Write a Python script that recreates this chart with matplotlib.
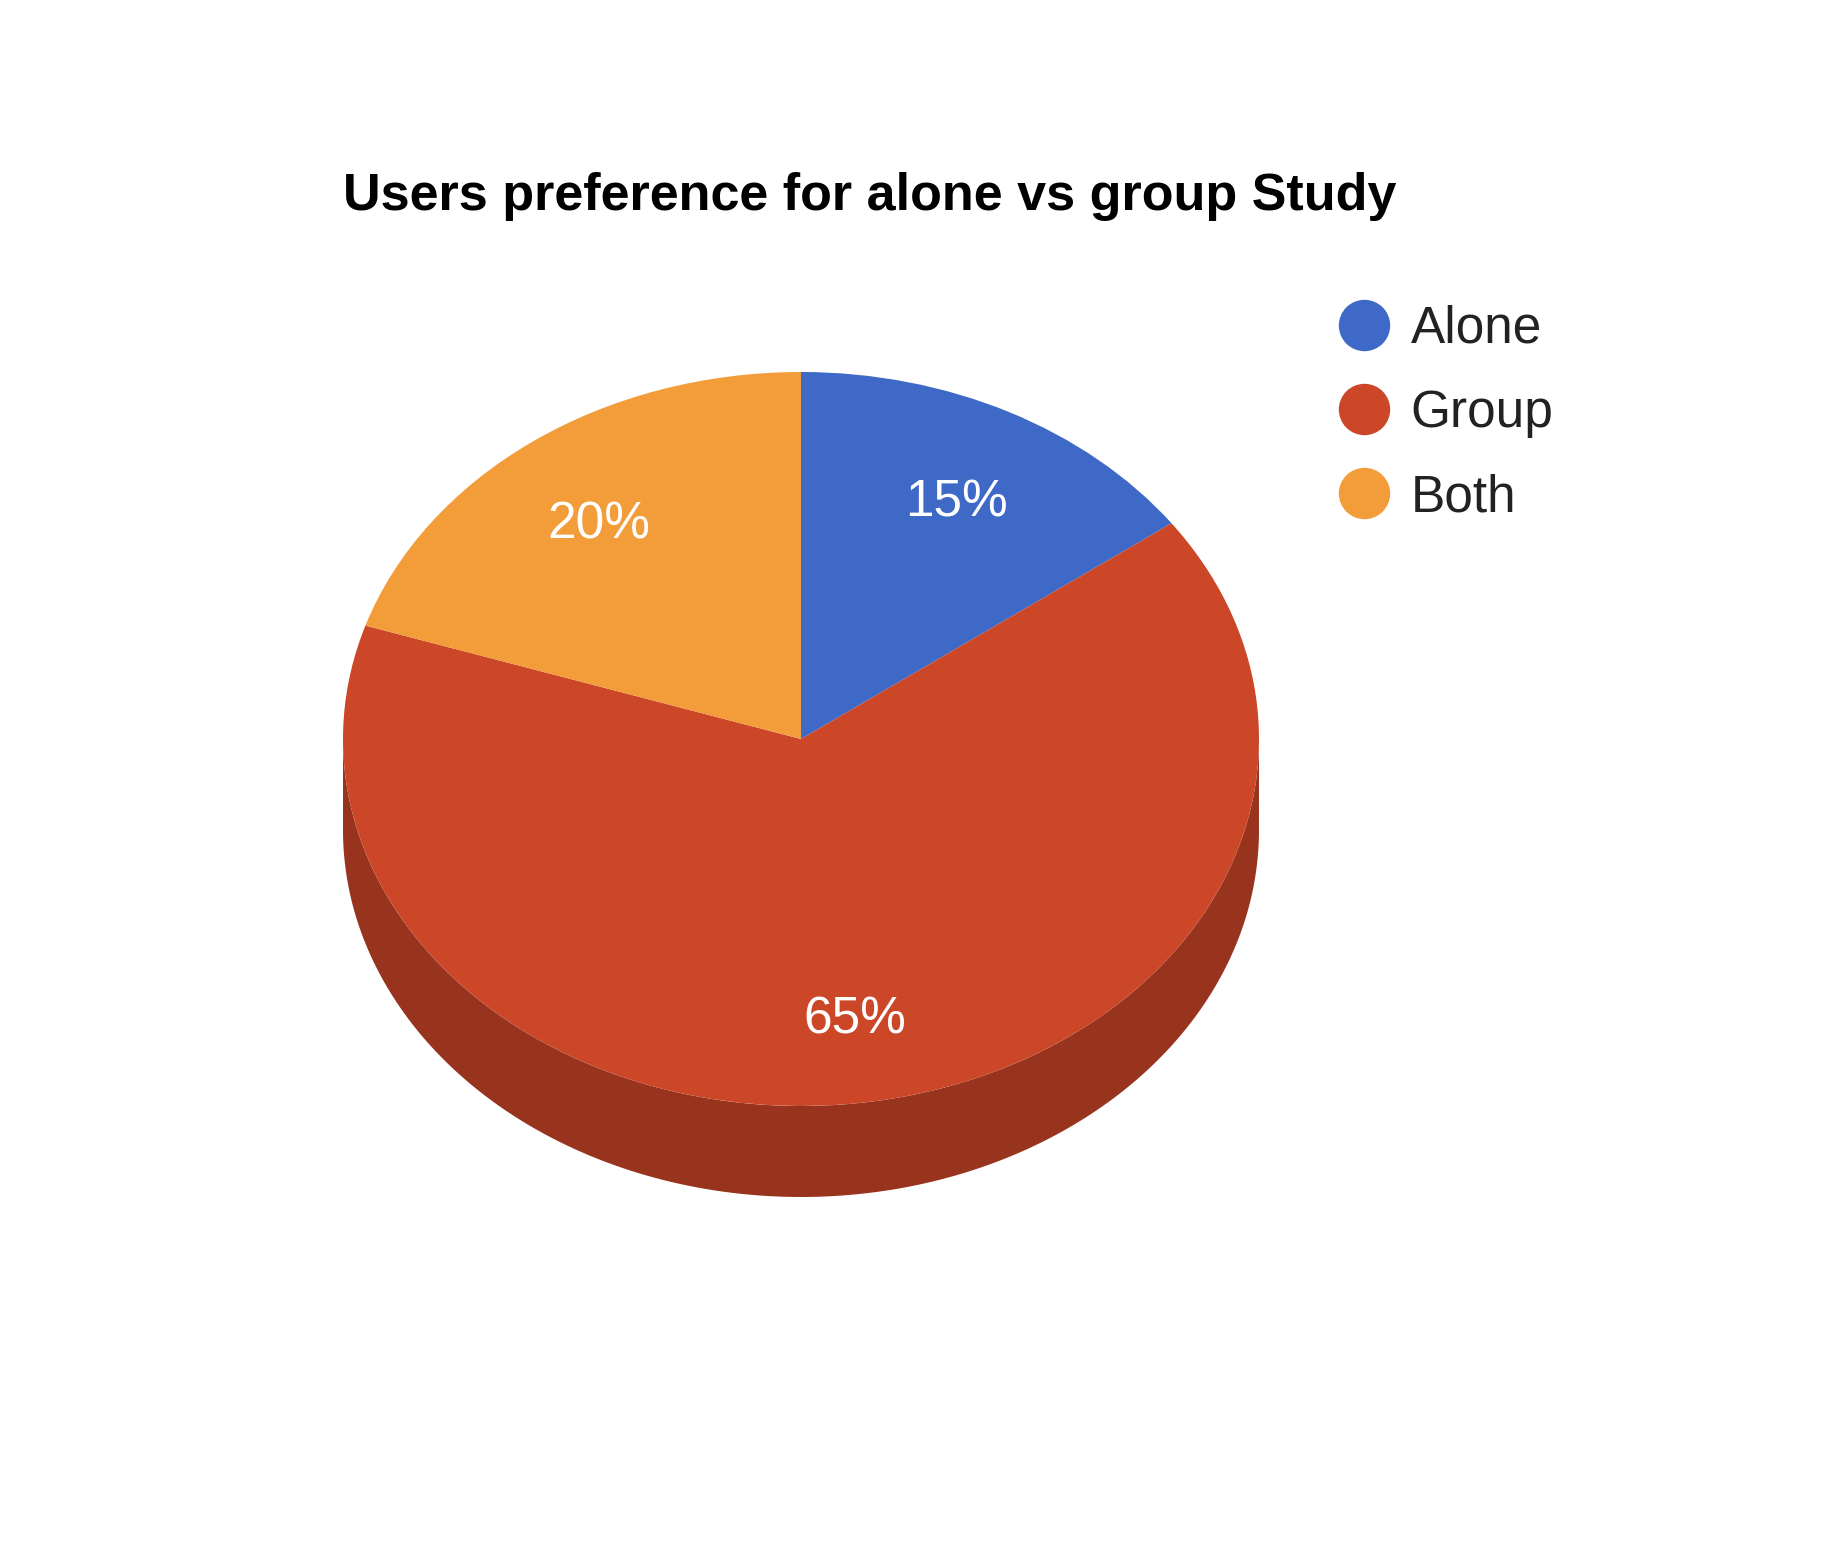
import numpy as np
import matplotlib.pyplot as plt
from matplotlib.lines import Line2D

plt.rcParams['font.family'] = ['Liberation Sans', 'DejaVu Sans']

labels = ['Alone', 'Group', 'Both']
shares = [15, 65, 20]
colors = ['#3f69c6', '#cc4628', '#f39d3a']
side_colors = ['#2c4b8f', '#98331e', '#b3702a']
title = 'Users preference for alone vs group Study'

W, H = 1844, 1560
fig = plt.figure(figsize=(W / 100, H / 100), dpi=100)

# pie centre / radii in pixels, used only to place the axes
cx, cy, rx, ry = 801, 739, 458, 367
depth = 91 / ry
xl, yl = (-1.2, 1.2), (-1.4, 1.2)
ax = fig.add_axes([(cx + rx * xl[0]) / W, (H - cy + ry * yl[0]) / H,
                   rx * (xl[1] - xl[0]) / W, ry * (yl[1] - yl[0]) / H])

wedges, texts, autotexts = ax.pie(
    shares, colors=colors, startangle=90, counterclock=False, radius=1,
    autopct='%1.0f%%', pctdistance=0.75,
    wedgeprops=dict(linewidth=0, antialiased=True),
    textprops=dict(color='white', fontsize=37))
for w in wedges:
    w.set_zorder(3)
for t in autotexts:
    t.set_zorder(4)
    x, y = t.get_position()
    t.set_position((x, y - 9 / ry))  # labels sit a little lower in the original

# side wall of the 3D pie: only the lower half is visible
tot = sum(shares)
start = 90.0
for val, sc in zip(shares, side_colors):
    end = start - 360.0 * val / tot
    for shift in (0.0, 360.0):
        a0, a1 = max(end + shift, -180.0), min(start + shift, 0.0)
        if a0 < a1:
            phi = np.radians(np.linspace(a1, a0, 200))
            xs, ys = np.cos(phi), np.sin(phi)
            ax.fill(np.concatenate([xs, xs[::-1]]),
                    np.concatenate([ys, ys[::-1] - depth]),
                    color=sc, linewidth=0, zorder=2)
    start = end

ax.set_aspect('auto')
ax.set_xlim(*xl)
ax.set_ylim(*yl)
ax.axis('off')

fig.text(343 / W, (H - 210) / H, title, fontsize=37.5, fontweight='bold',
         ha='left', va='baseline', color='black')

handles = [Line2D([], [], marker='o', linestyle='none', markersize=37,
                  markerfacecolor=c, markeredgewidth=0) for c in colors]
fig.legend(handles, labels, loc='upper left',
           bbox_to_anchor=(1313 / W, (H - 284) / H), frameon=False,
           fontsize=37, handletextpad=0.3, labelspacing=0.69,
           borderaxespad=0, handlelength=1.2, labelcolor='#222222')

fig.savefig('out.png', dpi=100, facecolor='white')
